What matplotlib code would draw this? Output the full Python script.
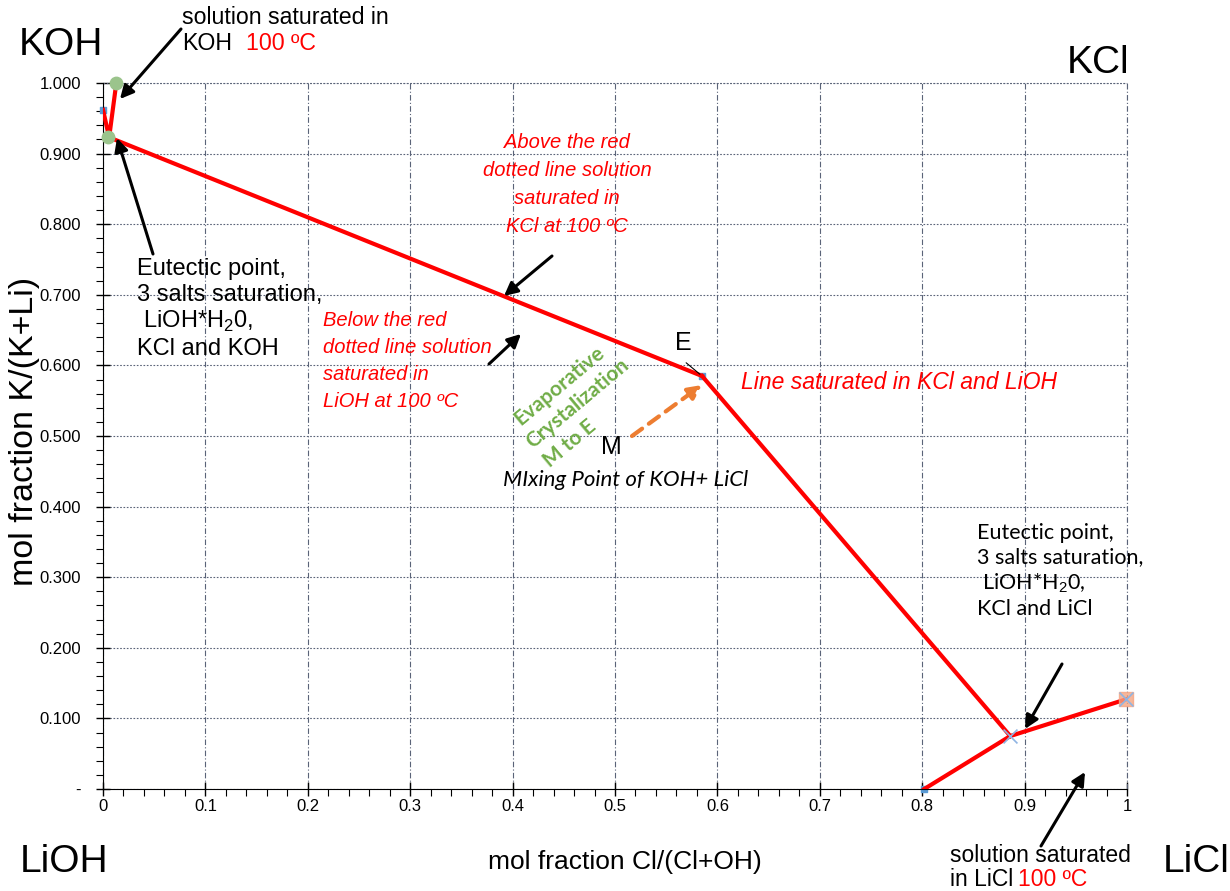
import numpy as np
import matplotlib.pyplot as plt
from matplotlib.ticker import MultipleLocator, FuncFormatter

plt.rcParams['font.family'] = ['Liberation Sans', 'DejaVu Sans']
plt.rcParams['mathtext.fontset'] = 'custom'
plt.rcParams['mathtext.rm'] = 'Liberation Sans'

# KOH saturation branch (near x=0)
koh_x = [0.0, 0.006, 0.013]
koh_y = [0.962, 0.923, 1.0]
# KCl saturation line from KOH eutectic to point E
kcl_x = [0.006, 0.585]
kcl_y = [0.923, 0.585]
# KCl + LiOH line from E to LiCl eutectic
kl_x = [0.585, 0.886]
kl_y = [0.585, 0.075]
# LiCl side
licl_x = [0.802, 0.886, 0.999]
licl_y = [0.0, 0.075, 0.127]

green_pts_x = [0.013, 0.005]
green_pts_y = [1.0, 0.923]
cross_x = [0.886, 0.999]
cross_y = [0.075, 0.127]

fig = plt.figure(figsize=(12.3, 8.91), dpi=100)
ax = fig.add_axes([103/1230, 1-789/891, 1024/1230, 706/891])

red = '#ff0000'
ax.plot(koh_x, koh_y, color=red, lw=3, zorder=3)
ax.plot(kcl_x, kcl_y, color=red, lw=3, zorder=3)
ax.plot(kl_x, kl_y, color=red, lw=3, zorder=3)
ax.plot(licl_x, licl_y, color=red, lw=3, zorder=3)
ax.scatter(green_pts_x, green_pts_y, s=80, color='#9bc48c', zorder=4, clip_on=False)
ax.scatter([0.999], [0.127], s=90, marker='s', color='#f4a582', alpha=0.8, zorder=4, clip_on=False)
ax.scatter(cross_x, cross_y, s=100, marker='x', color='#8fb4e3', lw=1.2, zorder=5, clip_on=False)
ax.scatter([0.0, 0.585, 0.802], [0.962, 0.585, 0.0], s=20, marker='s', color='#5b9bd5', zorder=2, clip_on=False)

ax.set_xlim(0, 1)
ax.set_ylim(0, 1)
ax.xaxis.set_major_locator(MultipleLocator(0.1))
ax.xaxis.set_minor_locator(MultipleLocator(0.02))
ax.yaxis.set_major_locator(MultipleLocator(0.1))
ax.yaxis.set_minor_locator(MultipleLocator(0.02))
ax.xaxis.set_major_formatter(FuncFormatter(lambda v, p: '0' if abs(v) < 1e-9 else ('1' if abs(v-1) < 1e-9 else f'{v:.1f}')))
ax.yaxis.set_major_formatter(FuncFormatter(lambda v, p: '-' if abs(v) < 1e-9 else f'{v:.3f}'))
ax.tick_params(which='major', direction='inout', length=10, width=1, labelsize=12)
ax.tick_params(axis='y', which='major', pad=11)
ax.tick_params(axis='x', which='major', pad=2)
ax.tick_params(which='minor', direction='out', length=5, width=0.8)
for s in ['top', 'right']:
    ax.spines[s].set_visible(False)
ax.grid(axis='x', which='major', color='#5a6378', lw=0.8, linestyle=(0, (5, 2, 1, 2)))
ax.grid(axis='y', which='major', color='#5a6378', lw=0.8, linestyle=(0, (1.5, 1.5)))
ax.plot([0, 1], [1, 1], color='#5a6378', lw=0.8, linestyle=(0, (1.5, 1.5)), clip_on=False)
ax.plot([1, 1], [0, 1], color='#5a6378', lw=0.8, linestyle=(0, (5, 2, 1, 2)), clip_on=False)
ax.set_axisbelow(True)


def P(x, y):
    return (x / 1230, 1 - y / 891)


ff = 'figure fraction'
arw = dict(arrowstyle='-|>', lw=2.2, color='black', mutation_scale=20, shrinkA=0, shrinkB=0)
lato = 'Lato'
arial = 'Liberation Sans'

fig.text(*P(61, 45), 'KOH', fontsize=28, ha='center', va='center')
fig.text(*P(1098, 63), 'KCl', fontsize=28, ha='center', va='center')
fig.text(*P(64, 862), 'LiOH', fontsize=28, ha='center', va='center')
fig.text(*P(1196, 862), 'LiCl', fontsize=28, ha='center', va='center')
fig.text(*P(625, 862), 'mol fraction Cl/(Cl+OH)', fontsize=19, ha='center', va='center')
fig.text(*P(25, 431), 'mol fraction K/(K+Li)', fontsize=24.5, ha='center', va='center', rotation=90)

fig.text(*P(182, 18), 'solution saturated in', fontsize=16.7, va='center')
fig.text(*P(182, 43), 'KOH', fontsize=16.7, va='center')
fig.text(*P(246, 43), '100 ºC', fontsize=16.7, va='center', color=red)
ax.annotate('', xy=P(120, 99), xytext=P(181, 29), xycoords=ff, textcoords=ff, arrowprops=arw)

fig.text(*P(137, 309), 'Eutectic point,\n3 salts saturation,\n LiOH*H$_2$0,\nKCl and KOH',
         fontsize=17, va='center', linespacing=1.2)
ax.annotate('', xy=P(117, 138), xytext=P(153, 254), xycoords=ff, textcoords=ff, arrowprops=arw)

fig.text(*P(567, 185), 'Above the red\ndotted line solution\nsaturated in\nKCl at 100 ºC',
         fontsize=14.5, style='italic', color=red, ha='center', va='center', linespacing=1.6,
         family=arial)
ax.annotate('', xy=P(504, 296), xytext=P(552, 256), xycoords=ff, textcoords=ff, arrowprops=arw)

fig.text(*P(323, 361), 'Below the red\ndotted line solution\nsaturated in\nLiOH at 100 ºC',
         fontsize=14.5, style='italic', color=red, ha='left', va='center', linespacing=1.55,
         family=arial)
ax.annotate('', xy=P(521, 334), xytext=P(489, 364), xycoords=ff, textcoords=ff, arrowprops=arw)

fig.text(*P(683, 343), 'E', fontsize=18, ha='center', va='center')
ax.annotate('', xy=P(702, 376), xytext=P(684, 361), xycoords=ff, textcoords=ff,
            arrowprops=dict(arrowstyle='-', lw=0.8, color='black'))

green = '#70ad47'
for txt, cx, cy in [('Evaporative', 559, 386), ('Crystalization', 578, 403), ('M to E', 570, 444)]:
    fig.text(*P(cx, cy), txt, fontsize=15, fontweight='bold', color=green, ha='center',
             va='center', rotation=40, family=lato, rotation_mode='anchor')
ax.annotate('', xy=P(702, 385), xytext=P(632, 436), xycoords=ff, textcoords=ff,
            arrowprops=dict(arrowstyle='-|>', lw=3, color='#ed7d31', linestyle=(0, (3, 2)),
                            mutation_scale=20, shrinkA=0, shrinkB=0))
fig.text(*P(611, 447), 'M', fontsize=18, ha='center', va='center')
fig.text(*P(626, 480), 'MIxing Point of KOH+ LiCl', fontsize=16, style='italic', ha='center',
         va='center', family=lato)

fig.text(*P(741, 383), 'Line saturated in KCl and LiOH', fontsize=16.5, style='italic', color=red,
         va='center', family=arial)

fig.text(*P(977, 571), 'Eutectic point,\n3 salts saturation,\n LiOH*H$_2$0,\nKCl and LiCl',
         fontsize=15.5, va='center', linespacing=1.25, family=lato)
ax.annotate('', xy=P(1025, 729), xytext=P(1062, 664), xycoords=ff, textcoords=ff, arrowprops=arw)

fig.text(*P(950, 855), 'solution saturated', fontsize=16.5, va='center')
fig.text(*P(950, 879), 'in LiCl', fontsize=16.5, va='center')
fig.text(*P(1018, 879), '100 ºC', fontsize=16.5, va='center', color=red)
ax.annotate('', xy=P(1085, 772), xytext=P(1041, 846), xycoords=ff, textcoords=ff, arrowprops=arw)

fig.savefig('out.png', dpi=100)
